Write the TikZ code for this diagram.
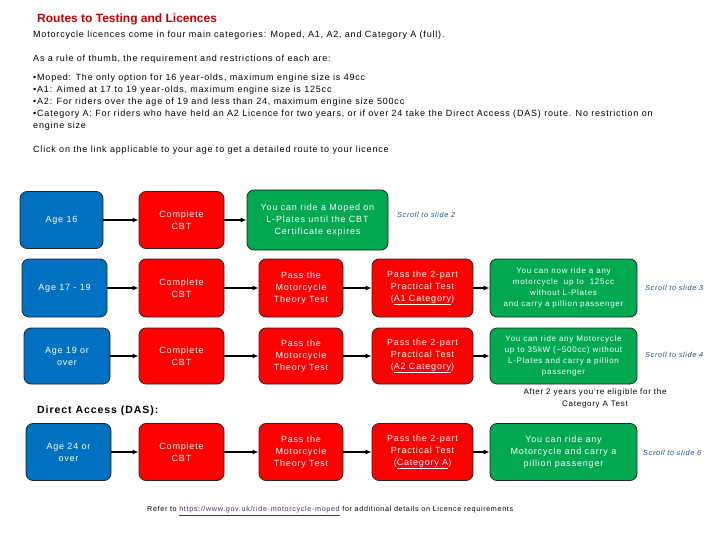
\documentclass[tikz,border=0pt]{standalone}
\usepackage{fontspec}
\setmainfont{Liberation Sans}[LetterSpace=9]
\newfontfamily\titlefont{Liberation Sans}
\usetikzlibrary{arrows.meta}
\definecolor{bbox}{HTML}{0070C0}
\definecolor{rbox}{HTML}{FF0000}
\definecolor{gbox}{HTML}{00A850}
\definecolor{titlered}{HTML}{C00000}
\definecolor{scrollblue}{HTML}{1F4E79}
\definecolor{linkpurple}{HTML}{4B2D6B}
\tikzset{
  box/.style={draw=black!85, line width=0.8pt, rounded corners=7pt, text=white, align=center,
    font=\fontsize{9}{12}\selectfont, inner sep=1pt},
  agebox/.style={box, fill=bbox},
  redbox/.style={box, fill=rbox},
  greenbox/.style={box, fill=gbox},
  smallgreen/.style={font=\fontsize{8}{11}\selectfont},
  flow/.style={-{Latex[length=6pt,width=5pt]}, line width=2pt, black},
  scroll/.style={font=\fontsize{7.3}{9}\selectfont\itshape, text=scrollblue, anchor=west, inner sep=0pt},
  body/.style={font=\fontsize{9}{12}\selectfont, anchor=north west, inner sep=0pt, align=left}
}
\begin{document}
\begin{tikzpicture}[x=1pt,y=-1pt]
\useasboundingbox (0,0) rectangle (720,540);
\fill[white] (0,0) rectangle (720,540);

\node[anchor=west, inner sep=0pt, text=titlered, font=\titlefont\fontsize{12}{14}\selectfont\bfseries] (title) at (37,19) {Routes to Testing and Licences};
\node[body] (intro) at (33,31) {Motorcycle licences come in four main categories: Moped, A1, A2, and Category A (full).};
\node[body] (rule) at (33,55) {As a rule of thumb, the requirement and restrictions of each are:};
\node[body] (list) at (33,74) {•Moped: The only option for 16 year-olds, maximum engine size is 49cc\\
•A1: Aimed at 17 to 19 year-olds, maximum engine size is 125cc\\
•A2: For riders over the age of 19 and less than 24, maximum engine size 500cc\\
•Category A: For riders who have held an A2 Licence for two years, or if over 24 take the Direct Access (DAS) route. No restriction on\\engine size};
\node[body] (click) at (33,146) {Click on the link applicable to your age to get a detailed route to your licence};

% Row 1
\node[agebox, minimum width=83pt, minimum height=57pt] (a1) at (61.5,220) {Age 16};
\node[redbox, minimum width=85pt, minimum height=57pt] (c1) at (181.5,220) {Complete\\CBT};
\node[greenbox, minimum width=141pt, minimum height=60pt] (g1) at (317.5,220) {You can ride a Moped on\\L-Plates until the CBT\\Certificate expires};
\node[scroll] (s1) at (397,215) {Scroll to slide 2};
\draw[flow] (a1) -- (c1);
\draw[flow] (c1) -- (g1);

% Row 2
\node[agebox, minimum width=85pt, minimum height=58pt] (a2) at (64.5,288) {Age 17 - 19};
\node[redbox, minimum width=85pt, minimum height=58pt] (c2) at (181.5,288) {Complete\\CBT};
\node[redbox, minimum width=84pt, minimum height=58pt] (t2) at (301,288) {Pass the\\Motorcycle\\Theory Test};
\node[redbox, minimum width=101pt, minimum height=58pt] (p2) at (422.5,288) {Pass the 2-part\\Practical Test\\(\underline{A1 Category})};
\node[greenbox, smallgreen, minimum width=147pt, minimum height=58pt] (g2) at (563.5,288) {You can now ride a any\\motorcycle \ up to \ 125cc\\without L-Plates\\and carry a pillion passenger};
\node[scroll] (s2) at (645,288) {Scroll to slide 3};
\draw[flow] (a2) -- (c2);
\draw[flow] (c2) -- (t2);
\draw[flow] (t2) -- (p2);
\draw[flow] (p2) -- (g2);

% Row 3
\node[agebox, minimum width=86pt, minimum height=56pt] (a3) at (67,356) {Age 19 or\\over};
\node[redbox, minimum width=85pt, minimum height=56pt] (c3) at (181.5,356) {Complete\\CBT};
\node[redbox, minimum width=84pt, minimum height=56pt] (t3) at (301,356) {Pass the\\Motorcycle\\Theory Test};
\node[redbox, minimum width=101pt, minimum height=56pt] (p3) at (422.5,356) {Pass the 2-part\\Practical Test\\(\underline{A2 Category})};
\node[greenbox, smallgreen, minimum width=147pt, minimum height=56pt] (g3) at (563.5,356) {You can ride any Motorcycle\\up to 35kW (\textasciitilde500cc) without\\L-Plates and carry a pillion\\passenger};
\node[scroll] (s3) at (645,355) {Scroll to slide 4};
\draw[flow] (a3) -- (c3);
\draw[flow] (c3) -- (t3);
\draw[flow] (t3) -- (p3);
\draw[flow] (p3) -- (g3);

\node[align=center, inner sep=0pt, font=\fontsize{8}{11.5}\selectfont] (after) at (595,398.5) {After 2 years you're eligible for the\\Category A Test};

% Row 4
\node[anchor=west, inner sep=0pt, font=\fontsize{10.5}{12}\selectfont\bfseries] (das) at (37,411) {Direct Access (DAS):};
\node[agebox, minimum width=85pt, minimum height=57pt] (a4) at (68.5,452) {Age 24 or\\over};
\node[redbox, minimum width=85pt, minimum height=57pt] (c4) at (181.5,452) {Complete\\CBT};
\node[redbox, minimum width=84pt, minimum height=57pt] (t4) at (301,452) {Pass the\\Motorcycle\\Theory Test};
\node[redbox, minimum width=101pt, minimum height=57pt] (p4) at (422.5,452) {Pass the 2-part\\Practical Test\\(\underline{Category A})};
\node[greenbox, minimum width=147pt, minimum height=57pt] (g4) at (563.5,452) {You can ride any\\Motorcycle and carry a\\pillion passenger};
\node[scroll] (s4) at (643,453) {Scroll to slide 6};
\draw[flow] (a4) -- (c4);
\draw[flow] (c4) -- (t4);
\draw[flow] (t4) -- (p4);
\draw[flow] (p4) -- (g4);

\node[anchor=west, inner sep=0pt, font=\fontsize{7.2}{9}\selectfont] (refer) at (147,511) {Refer to \textcolor{linkpurple}{\underline{https://www.gov.uk/ride-motorcycle-moped}} for additional details on Licence requirements};
\end{tikzpicture}
\end{document}
